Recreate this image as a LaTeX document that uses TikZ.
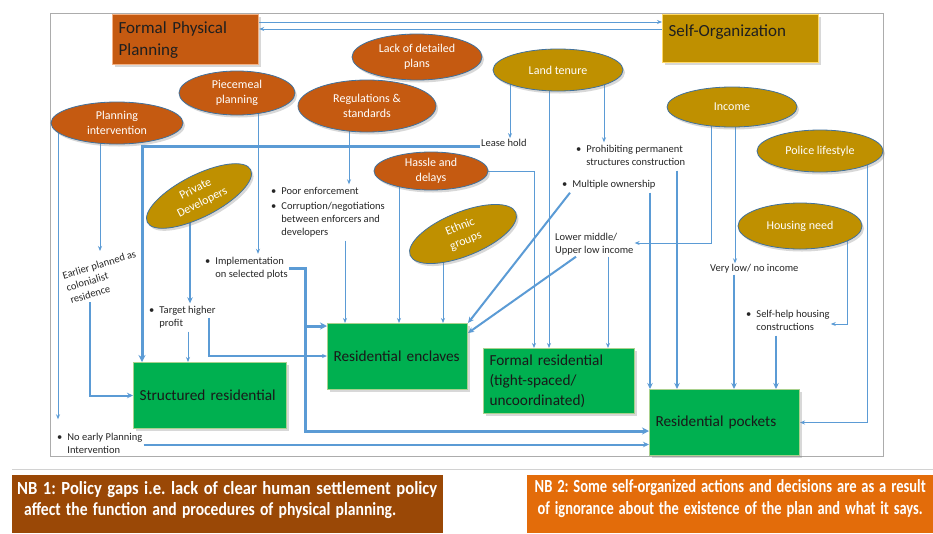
\documentclass[tikz,border=0pt]{standalone}
\usepackage{fontspec}
\setmainfont{Carlito}
\usetikzlibrary{shapes.geometric,arrows.meta,shadows}
\pgfdeclarelayer{back}
\pgfdeclarelayer{links}
\pgfsetlayers{back,links,main}
\definecolor{ora}{HTML}{C55A11}
\definecolor{gold}{HTML}{BF9000}
\definecolor{grn}{HTML}{00B050}
\definecolor{grnbd}{HTML}{A9D18E}
\definecolor{lnk}{HTML}{5B9BD5}
\definecolor{ebd}{HTML}{41719C}
\definecolor{orabd}{HTML}{F4B183}
\definecolor{goldbd}{HTML}{FFD966}
\definecolor{nbone}{HTML}{9A4806}
\definecolor{nbtwo}{HTML}{E36C0A}
\newcommand\nbline[2]{\resizebox{#1}{13pt}{#2}}
\newcommand\blt[1]{\begin{tabular}{@{}l@{\hspace{5pt}}l@{}}#1\end{tabular}}
\frenchspacing
\begin{document}
\begin{tikzpicture}[x=1pt,y=-1pt,
  shd/.style={drop shadow={shadow xshift=2pt,shadow yshift=-2.5pt,opacity=0.3}},
  oval/.style={ellipse, draw=ebd, line width=0.8pt, text=white, align=center,
    inner sep=0pt, font=\fontsize{12}{15}\selectfont, shd},
  ovo/.style={oval, fill=ora},
  ovg/.style={oval, fill=gold},
  gbox/.style={rectangle, fill=grn, draw=grnbd, line width=1pt, anchor=north west,
    align=left, inner xsep=6pt, font=\fontsize{15.3}{20}\selectfont, text=black!90, shd},
  tbox/.style={rectangle, anchor=north west, line width=1.2pt, align=left,
    inner xsep=6pt, font=\fontsize{17}{22}\selectfont, text=black!88, shd},
  txt/.style={font=\fontsize{10.5}{13}\selectfont, inner sep=1pt, align=left, text=black!85},
  lk/.style={draw=lnk, line width=1pt, -{Stealth[length=5pt,width=4pt]}},
  lkm/.style={draw=lnk, line width=2pt, -{Stealth[length=6pt,width=5.5pt]}},
  lkt/.style={draw=lnk, line width=3pt, -{Stealth[length=7pt,width=7pt]}},
]
\useasboundingbox (0,0) rectangle (933,533);
\begin{pgfonlayer}{back}
\fill[white] (0,0) rectangle (933,533);
\draw[gray!65, line width=0.8pt] (50,13) rectangle (883,456);
\draw[gray!35, line width=1pt] (12,469) -- (933,469);
\end{pgfonlayer}

% title boxes
\node[tbox, fill=ora, draw=orabd, minimum width=146pt, minimum height=50pt, text width=134pt] (fpp) at (112,14) {Formal Physical\\Planning};
\node[tbox, fill=gold, draw=goldbd, minimum width=156pt, minimum height=48pt, text width=144pt] (so) at (662,14) {Self-Organization\\[-6pt]\mbox{}};

% ellipses
\node[ovo, minimum width=132pt, minimum height=42pt] (pi) at (117,123) {Planning\\intervention};
\node[ovo, minimum width=116pt, minimum height=44pt] (pp) at (237,93) {Piecemeal\\planning};
\node[ovo, minimum width=138pt, minimum height=52pt] (rs) at (367,106) {Regulations \&\\standards};
\node[ovo, minimum width=130pt, minimum height=46pt] (ld) at (417,57) {Lack of detailed\\plans};
\node[ovo, minimum width=114pt, minimum height=38pt] (hd) at (431,171) {Hassle and\\delays};
\node[ovg, minimum width=130pt, minimum height=42pt] (lt) at (558,70) {Land tenure};
\node[ovg, minimum width=130pt, minimum height=40pt] (inc) at (732,107) {Income};
\node[ovg, minimum width=126pt, minimum height=42pt] (pl) at (820,151) {Police lifestyle};
\node[ovg, minimum width=124pt, minimum height=46pt] (hn) at (800,226) {Housing need};
\node[ovg, rotate=27, minimum width=116pt, minimum height=42pt] (pd) at (199,196) {Private\\Developers};
\node[ovg, rotate=22, minimum width=114pt, minimum height=44pt] (eg) at (463,234) {Ethnic\\groups};

% green boxes
\node[gbox, minimum width=153pt, minimum height=66pt, text width=141pt] (str) at (133,362) {Structured residential};
\node[gbox, minimum width=140pt, minimum height=66pt, text width=128pt] (enc) at (327,323) {Residential enclaves};
\node[gbox, minimum width=151pt, minimum height=65pt, text width=139pt] (fr) at (483,348) {Formal residential\\(tight-spaced/\\uncoordinated)};
\node[gbox, minimum width=150pt, minimum height=66pt, text width=138pt] (pk) at (649,389) {Residential pockets};

% annotations
\node[txt, anchor=west] (tlh) at (480,143) {Lease hold};
\node[txt, anchor=west] (tpp) at (575,156.5) {\blt{\textbullet & Prohibiting permanent\\ & structures construction}};
\node[txt, anchor=west] (tmo) at (561,185) {\blt{\textbullet & Multiple ownership}};
\node[txt, anchor=west] (tlm) at (554,244.5) {Lower middle/\\Upper low income};
\node[txt, anchor=west] (tvl) at (709,269) {Very low/ no income};
\node[txt, anchor=west] (tsh) at (745,321.5) {\blt{\textbullet & Self-help housing\\ & constructions}};
\node[txt, anchor=west] (tpe) at (270,212.5) {\blt{\textbullet & Poor enforcement\\[2pt] \textbullet & Corruption/negotiations\\ & between enforcers and\\ & developers}};
\node[txt, anchor=west] (timp) at (204,268) {\blt{\textbullet & Implementation\\ & on selected plots}};
\node[txt, anchor=west] (tth) at (148,317.5) {\blt{\textbullet & Target higher\\ & profit}};
\node[txt, anchor=west] (tne) at (56,444.5) {\blt{\textbullet & No early Planning\\ & Intervention}};
\node[txt, rotate=17] (tep) at (103,277) {Earlier planned as\\colonialist\\residence};
\coordinate (tepin) at (100,251);
\coordinate (tepout) at (90,302);

% NB boxes
\node[rectangle, fill=nbone, anchor=north west, minimum width=431pt, minimum height=58pt,
  text width=421pt, inner xsep=5pt, align=left, text=white, font=\bfseries\fontsize{12}{21}\selectfont] (nb1) at (12,475)
  {\nbline{420pt}{NB 1: Policy gaps i.e. lack of clear human settlement policy}\\\hspace*{7pt}\nbline{372pt}{affect the function and procedures of physical planning.}\\[-10pt]\mbox{}};
\node[rectangle, fill=nbtwo, anchor=north west, minimum width=406pt, minimum height=58pt,
  text width=396pt, inner xsep=5pt, align=center, text=white, font=\bfseries\fontsize{12}{22}\selectfont] (nb2) at (527,475)
  {\nbline{391pt}{NB 2: Some self-organized actions and decisions are as a result}\\\nbline{385pt}{of ignorance about the existence of the plan and what it says.}\\[-8pt]\mbox{}};

% connectors
\begin{pgfonlayer}{links}
\draw[lk] (fpp.east |- 0,22) -- (so.west |- 0,22);
\draw[lk] (so.west |- 0,29) -- (fpp.east |- 0,29);
% planning intervention
\draw[lk, shorten >=11pt] (pi.center -| 58,0) -- (tne.north -| 58,0);
\draw[lk] (pi.center -| 100,0) -- (tepin);
\draw[lkm] (tepout) |- (str.west);
\draw[lkm] (tne.east) -- (tne.east -| pk.west);
% piecemeal planning
\draw[lk] (pp.center -| 258,0) -- (timp.north -| 258,0);
\draw[lkt] (timp.east) -- (timp.east -| 305,0) |- (enc.west |- 0,326);
\draw[lkt] (timp.east -| 305,0) |- (pk.west |- 0,431);
% regulations
\draw[lk] (rs.center -| 349,0) -- (tpe.north -| 349,0);
\draw[lk] (tpe.south -| 345,0) -- (enc.north -| 345,0);
% lease hold
\draw[lkt] ([yshift=-3pt]tlh.west) -| (str.north -| 142,0);
% hassle and delays
\draw[lk] (hd.center -| 399,0) -- (enc.north -| 399,0);
\draw[lk] (hd.east) -| (fr.north -| 534,0);
% ethnic groups
\draw[lk] (eg.center -| 443,0) -- (enc.north -| 443,0);
% private developers
\draw[lkm, line width=2.5pt] (pd.center -| 190,0) -- (tth.north -| 190,0);
\draw[lk] (tth.south -| 188,0) -- (str.north -| 188,0);
\draw[lk, line width=1.5pt] (tth.center -| 209,0) |- (enc.west |- 0,356);
% land tenure
\draw[lk] (lt.center -| 510,0) -- (tlh.north -| 510,0);
\draw[lk] (lt.center -| 549,0) -- (fr.north -| 549,0);
\draw[lk] (lt.center -| 604,0) -- (tpp.north -| 604,0);
\draw[lkm] (tpp.south -| 677,0) -- (pk.north -| 677,0);
\draw[lkm] (tmo.south -| 650,0) -- (pk.north -| 650,0);
\draw[lkm] ([xshift=9pt]tmo.south west) -- (enc.north east);
\draw[lkm] ([xshift=22pt]tlm.south west) -- ([yshift=-10pt]enc.north east);
\draw[lk] (tlm.south -| 608,0) -- (fr.north -| 608,0);
% income
\draw[lk] (inc.center -| 711,0) |- (tlm.east |- 0,243);
\draw[lk] (inc.center -| 735,0) -- (tvl.north -| 735,0);
\draw[lkm] (tvl.south -| 734,0) -- (pk.north -| 734,0);
% housing need
\draw[lk] (hn.center -| 847,0) |- (tsh.east |- 0,324);
\draw[lkm] (tsh.south -| 776,0) -- (pk.north -| 776,0);
% police lifestyle
\draw[lk] (pl.center -| 867,0) |- (pk.east);
\end{pgfonlayer}
\end{tikzpicture}
\end{document}
